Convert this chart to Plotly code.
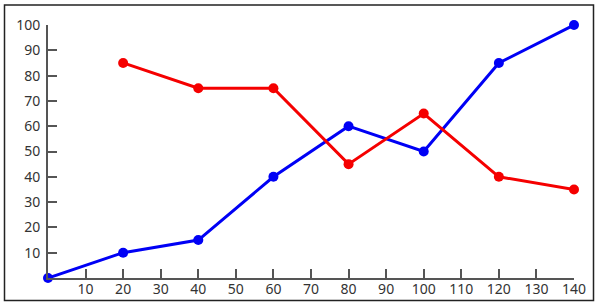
import plotly.graph_objects as go

blue_x = [0, 20, 40, 60, 80, 100, 120, 140]
blue_y = [0, 10, 15, 40, 60, 50, 85, 100]
red_x = [20, 40, 60, 80, 100, 120, 140]
red_y = [85, 75, 75, 45, 65, 40, 35]
x_ticks = list(range(10, 141, 10))
y_ticks = list(range(10, 101, 10))

fig = go.Figure()
fig.add_trace(go.Scatter(x=blue_x, y=blue_y, mode="lines+markers",
                         line=dict(color="#0000f5", width=3),
                         marker=dict(color="#0000f5", size=10), cliponaxis=False))
fig.add_trace(go.Scatter(x=red_x, y=red_y, mode="lines+markers",
                         line=dict(color="#f50000", width=3),
                         marker=dict(color="#f50000", size=10), cliponaxis=False))

L, R, T, B = 48, 26, 25, 29
W, H = 600, 307
pw, ph = W - L - R, H - T - B

def px(x):
    return (x - L) / pw

def py(y):
    return (H - B - y) / ph

fig.add_shape(type="rect", xref="paper", yref="paper",
              x0=px(4.5), x1=px(593.5), y0=py(300.5), y1=py(5),
              line=dict(color="#222", width=1.5), layer="below")

axis_common = dict(showgrid=False, zeroline=False, showline=True, linecolor="#555",
                   linewidth=2, ticks="inside", ticklen=9, tickwidth=2, tickcolor="#555",
                   automargin=False)
fig.update_xaxes(range=[0, 140], tickvals=x_ticks, ticklabelstandoff=-3,
                 tickfont=dict(family="Noto Sans", size=14, color="#333"), **axis_common)
fig.update_yaxes(range=[0, 100], tickvals=y_ticks, ticklabelstandoff=3,
                 tickfont=dict(family="Noto Sans", size=14, color="#333"), **axis_common)
fig.update_layout(width=W, height=H, margin=dict(l=L, r=R, t=T, b=B),
                  font=dict(family="Noto Sans", size=14),
                  plot_bgcolor="white", paper_bgcolor="white", showlegend=False)
fig.write_html("out.html")
